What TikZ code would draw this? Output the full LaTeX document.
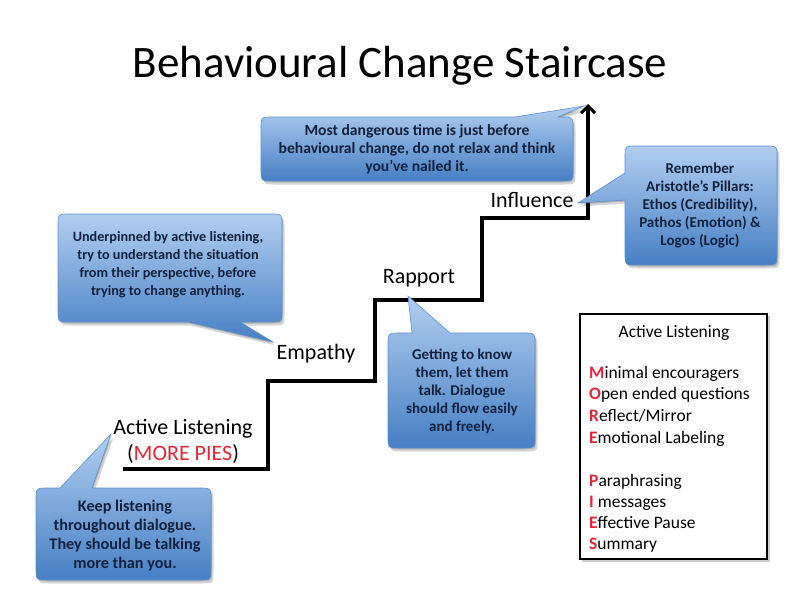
\documentclass[tikz,border=0pt]{standalone}
\usepackage{fontspec}
\setmainfont{Carlito}
\usetikzlibrary{arrows.meta}
\definecolor{cbtop}{HTML}{B2CEF0}
\definecolor{cbbot}{HTML}{467FC4}
\definecolor{cbline}{HTML}{5B8FD0}
\definecolor{cbtext}{HTML}{14213D}
\definecolor{pired}{HTML}{E0283A}
\begin{document}
\begin{tikzpicture}[x=1pt,y=-1pt,
  calloutfill/.style={top color=cbtop, bottom color=cbbot, draw=cbline, line width=0.6pt},
  calloutshadow/.style={fill=black, opacity=0.16},
  ctext/.style={font=\fontsize{15}{18}\selectfont\bfseries, text=cbtext, align=center, inner sep=0pt},
  steplabel/.style={font=\fontsize{22}{26}\selectfont, inner sep=0pt, anchor=base, align=center},
  boxitem/.style={font=\fontsize{17.5}{21}\selectfont, inner sep=0pt, anchor=base west},
  stairline/.style={line width=3.2pt, line join=miter},
  stairshadow/.style={line width=3.2pt, draw=black, opacity=0.3}
]
\useasboundingbox (0,0) rectangle (800,600);
\fill[white] (0,0) rectangle (800,600);

% title
\node[font=\fontsize{45}{50}\selectfont, inner sep=0pt, anchor=base] (title) at (400,77) {Behavioural Change Staircase};

% staircase
\coordinate (s0) at (123,469);
\coordinate (s1) at (268,469);
\coordinate (s2) at (268,381);
\coordinate (s3) at (375,381);
\coordinate (s4) at (375,300);
\coordinate (s5) at (482,300);
\coordinate (s6) at (482,218);
\coordinate (s7) at (588,218);
\coordinate (s8) at (588,104);
\begin{scope}[xshift=1.5pt, yshift=-2pt]
\draw[stairshadow] (s0) -- (s1) -- (s2) -- (s3) -- (s4) -- (s5) -- (s6) -- (s7) -- ([yshift=-8pt]s8);
\end{scope}
\draw[stairline, -{Straight Barb[length=7pt,width=14pt,line width=3pt]}] (s0) -- (s1) -- (s2) -- (s3) -- (s4) -- (s5) -- (s6) -- (s7) -- (s8);

% step labels
\node[steplabel] (al) at (183,460) {Active Listening\\[0pt](\textcolor{pired}{MORE PIES})};
\node[steplabel] (emp) at (316,359) {Empathy};
\node[steplabel] (rap) at (419,283) {Rapport};
\node[steplabel] (inf) at (532,207) {Influence};

% callout paths
\def\pA{(273,117) -- (515,117) -- (584,106) -- (558,117) -- (561,117) .. controls (573,117) .. (573,129) -- (573,169) .. controls (573,181) .. (561,181) -- (273,181) .. controls (261,181) .. (261,169) -- (261,129) .. controls (261,117) .. (273,117) -- cycle}
\def\pB{(637,146) -- (765,146) .. controls (777,146) .. (777,158) -- (777,253) .. controls (777,265) .. (765,265) -- (637,265) .. controls (625,265) .. (625,253) -- (625,200) -- (578,203) -- (625,173) -- (625,158) .. controls (625,146) .. (637,146) -- cycle}
\def\pC{(70,214) -- (270,214) .. controls (282,214) .. (282,226) -- (282,310) .. controls (282,322) .. (270,322) -- (240,322) -- (273,342) -- (188,322) -- (70,322) .. controls (58,322) .. (58,310) -- (58,226) .. controls (58,214) .. (70,214) -- cycle}
\def\pD{(400,333) -- (412,333) -- (408,296) -- (450,333) -- (523,333) .. controls (535,333) .. (535,345) -- (535,436) .. controls (535,448) .. (523,448) -- (400,448) .. controls (388,448) .. (388,436) -- (388,345) .. controls (388,333) .. (400,333) -- cycle}
\def\pE{(48,488) -- (60,488) -- (111,434) -- (92,488) -- (199,488) .. controls (211,488) .. (211,500) -- (211,568) .. controls (211,580) .. (199,580) -- (48,580) .. controls (36,580) .. (36,568) -- (36,500) .. controls (36,488) .. (48,488) -- cycle}

\foreach \p in {\pA,\pB,\pC,\pD,\pE}{
  \fill[calloutshadow, xshift=2.5pt, yshift=-3.5pt] \p;
  \fill[calloutshadow, xshift=1pt, yshift=-1.5pt] \p;
  \path[calloutfill] \p;
}

% callout texts
\node[ctext, font=\fontsize{15.6}{18}\selectfont\bfseries] (ta) at (417,149) {Most dangerous time is just before\\behavioural change, do not relax and think\\you’ve nailed it.};
\node[ctext] (tb) at (700,206) {Remember\\Aristotle’s Pillars:\\Ethos (Credibility),\\Pathos (Emotion) \&\\Logos (Logic)};
\node[ctext, font=\fontsize{14.2}{18}\selectfont\bfseries] (tc) at (168,265) {Underpinned by active listening,\\try to understand the situation\\from their perspective, before\\trying to change anything.};
\node[ctext] (td) at (462,391) {Getting to know\\them, let them\\talk. Dialogue\\should flow easily\\and freely.};
\node[ctext, font=\fontsize{16.2}{19}\selectfont\bfseries] (te) at (125,536) {Keep listening\\throughout dialogue.\\They should be talking\\more than you.};

% Active listening box
\fill[black, opacity=0.2] (582,316) rectangle (770,562);
\draw[line width=2pt, fill=white] (580,314) rectangle (767,559);
\node[font=\fontsize{17.5}{21}\selectfont, inner sep=0pt, anchor=base] (bh) at (674,337) {Active Listening};
\node[boxitem] (b1) at (589,378) {\textcolor{pired}{\bfseries M}inimal encouragers};
\node[boxitem] (b2) at (589,399) {\textcolor{pired}{\bfseries O}pen ended questions};
\node[boxitem] (b3) at (589,421) {\textcolor{pired}{\bfseries R}eflect/Mirror};
\node[boxitem] (b4) at (589,443) {\textcolor{pired}{\bfseries E}motional Labeling};
\node[boxitem] (b5) at (589,486) {\textcolor{pired}{\bfseries P}araphrasing};
\node[boxitem] (b6) at (589,507) {\textcolor{pired}{\bfseries I} messages};
\node[boxitem] (b7) at (589,528) {\textcolor{pired}{\bfseries E}ffective Pause};
\node[boxitem] (b8) at (589,549) {\textcolor{pired}{\bfseries S}ummary};
\end{tikzpicture}
\end{document}
